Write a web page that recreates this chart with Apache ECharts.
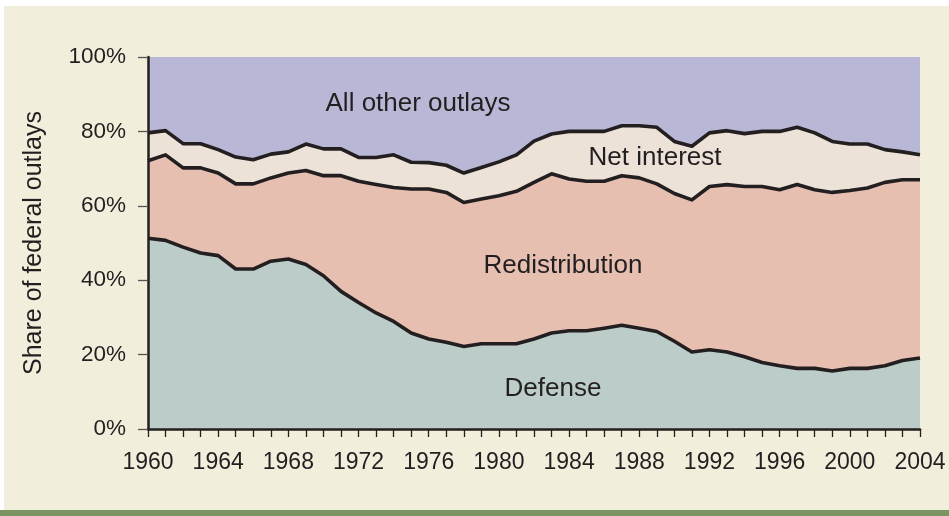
<!DOCTYPE html>
<html>
<head>
<meta charset="utf-8">
<script src="https://cdn.jsdelivr.net/npm/echarts/dist/echarts.min.js"></script>
<style>
html,body{margin:0;padding:0;background:#ffffff;}
#c{width:949px;height:516px;}
</style>
</head>
<body>
<div id="c"></div>
<script>
const years = [];
for (let y = 1960; y <= 2004; y++) years.push(String(y));

const defense = [51.3,50.7,48.9,47.3,46.6,43.0,43.0,45.1,45.7,44.2,41.2,37.0,34.0,31.2,28.9,25.8,24.2,23.3,22.2,22.9,22.9,22.9,24.2,25.8,26.4,26.4,27.1,27.9,27.1,26.2,23.6,20.7,21.3,20.7,19.4,17.9,17.0,16.3,16.3,15.6,16.3,16.3,17.0,18.4,19.1];
const redistribution = [20.8,23.0,21.3,22.9,22.2,22.9,22.9,22.4,23.1,25.3,26.9,31.1,32.6,34.5,36.0,38.7,40.3,40.3,38.7,38.9,39.8,41.0,42.1,42.8,40.8,40.2,39.5,40.2,40.4,39.7,39.7,40.9,43.9,45.0,45.8,47.3,47.3,49.4,48.0,48.0,47.8,48.5,49.3,48.6,47.9];
const netInterest = [7.5,6.5,6.5,6.5,6.3,7.2,6.5,6.4,5.7,7.1,7.2,7.2,6.4,7.3,8.8,7.2,7.1,7.3,7.9,8.5,9.1,9.8,11.1,10.7,12.8,13.4,13.4,13.4,14.0,15.2,14.0,14.4,14.4,14.5,14.2,14.8,15.7,15.4,15.3,13.7,12.5,11.8,8.8,7.5,6.7];
const allOther = [20.4,19.8,23.3,23.3,24.9,26.9,27.6,26.1,25.5,23.4,24.7,24.7,27.0,27.0,26.3,28.3,28.4,29.1,31.2,29.7,28.2,26.3,22.6,20.7,20.0,20.0,20.0,18.5,18.5,18.9,22.7,24.0,20.4,19.8,20.6,20.0,20.0,18.9,20.4,22.7,23.4,23.4,24.9,25.5,26.3];

const seriesNames = ['Defense','Redistribution','Net interest','All other outlays'];
const yTicks = [0,20,40,60,80,100];

const FONT = '"Liberation Sans", Arial, Helvetica, sans-serif';
const TXT = '#231f20';

const chart = echarts.init(document.getElementById('c'), null, {renderer:'canvas'});

function areaSeries(name, data, color, lineW) {
  return {
    name: name,
    type: 'line',
    stack: 'total',
    data: data,
    symbol: 'none',
    smooth: false,
    lineStyle: {color: '#231f20', width: lineW, join: 'round'},
    areaStyle: {color: color, opacity: 1},
    emphasis: {disabled: true},
    z: 2
  };
}

function label(text, x, y) {
  return {type:'text', x:x, y:y, silent:true, z:10,
    style:{text:text, fill:TXT, font:'26px ' + FONT, textAlign:'center', textVerticalAlign:'middle'}};
}

chart.setOption({
  animation: false,
  backgroundColor: '#ffffff',
  textStyle: {fontFamily: FONT},
  graphic: [
    {type:'rect', left:4, top:6, shape:{width:945, height:504}, style:{fill:'#f2eedc'}, z:-10},
    {type:'rect', left:0, top:510, shape:{width:949, height:6}, style:{fill:'#7a9462'}, z:-10},
    label(seriesNames[3], 418, 104),
    label(seriesNames[2], 655, 158),
    label(seriesNames[1], 563, 266),
    label(seriesNames[0], 553, 389)
  ],
  grid: {left:148, right:29, top:57, bottom:87, containLabel:false},
  xAxis: {
    type: 'category',
    data: years,
    boundaryGap: false,
    axisLine: {show:true, lineStyle:{color:'#231f20', width:2.5}},
    axisTick: {show:true, interval:0, length:8, lineStyle:{color:'#231f20', width:1.3}},
    axisLabel: {interval:3, color:TXT, fontSize:23, margin:22, fontFamily:FONT},
    splitLine: {show:false},
    z: 5
  },
  yAxis: {
    type: 'value',
    min: 0, max: 100, interval: 20,
    name: 'Share of federal outlays',
    nameLocation: 'middle',
    nameGap: 101,
    nameRotate: 90,
    nameTextStyle: {color:TXT, fontSize:25, fontFamily:FONT},
    axisLine: {show:true, lineStyle:{color:'#231f20', width:2.5}},
    axisTick: {show:true, length:10, lineStyle:{color:'#555555', width:1.3}},
    axisLabel: {color:TXT, fontSize:22.5, margin:22, fontFamily:FONT,
      formatter: function(v){ return yTicks.indexOf(v) >= 0 ? v + '%' : ''; }},
    splitLine: {show:false},
    z: 5
  },
  series: [
    areaSeries(seriesNames[0], defense, '#bccdc9', 3.6),
    areaSeries(seriesNames[1], redistribution, '#e6bfb1', 3.6),
    areaSeries(seriesNames[2], netInterest, '#ece2d8', 3.6),
    areaSeries(seriesNames[3], allOther, '#b8b8d6', 0)
  ]
});
</script>
</body>
</html>
